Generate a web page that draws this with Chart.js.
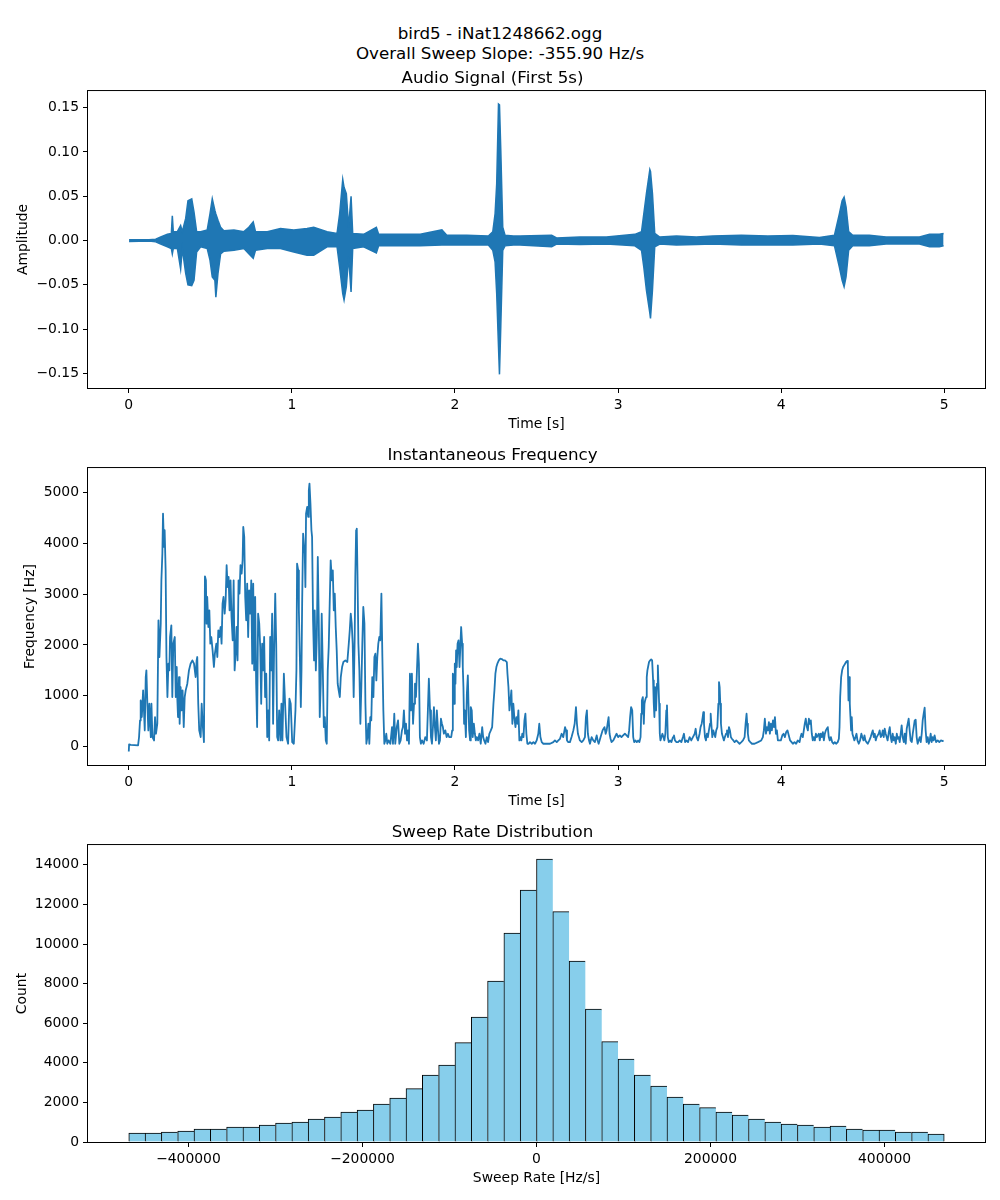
<!DOCTYPE html>
<html>
<head>
<meta charset="utf-8">
<title>bird5 - iNat1248662.ogg</title>
<script src="https://cdn.jsdelivr.net/npm/chart.js@4.4.1/dist/chart.umd.min.js"></script>
<style>
  html, body { margin: 0; padding: 0; background: #fff; }
  body { width: 1000px; height: 1200px; position: relative; font-family: 'DejaVu Sans', sans-serif; }
  #suptitle { position: absolute; left: 0; top: 23px; width: 1000px; text-align: center;
              font-size: 16.7px; line-height: 20px; color: #000; }
  canvas { position: absolute; left: 0; width: 1000px; height: 377px; }
</style>
</head>
<body>
<div id="suptitle">bird5 - iNat1248662.ogg<br>Overall Sweep Slope: -355.90 Hz/s</div>
<canvas id="audioChart" width="1000" height="377" style="top:58px"></canvas>
<canvas id="freqChart" width="1000" height="377" style="top:435px"></canvas>
<canvas id="sweepChart" width="1000" height="377" style="top:812px"></canvas>
<script>
// ─── TICKS ─────────────────────────────────────────────────────────
const timeTicks  = [0, 1, 2, 3, 4, 5];
const audioTicks = [-0.15, -0.10, -0.05, 0, 0.05, 0.10, 0.15];
const freqTicks  = [0, 1000, 2000, 3000, 4000, 5000];
const countTicks = [0, 2000, 4000, 6000, 8000, 10000, 12000, 14000];
const sweepTicks = [-400000, -200000, 0, 200000, 400000];

// ─── AUDIO SIGNAL (envelope) ───────────────────────────────────────
const audioTime = [
  0.002, 0.124, 0.165, 0.196, 0.237, 0.261, 0.267, 0.273, 0.298, 0.318,
  0.328, 0.349, 0.363, 0.386, 0.400, 0.416, 0.441, 0.481, 0.498, 0.512,
  0.528, 0.534, 0.547, 0.563, 0.583, 0.645, 0.706, 0.736, 0.763, 0.777,
  0.849, 0.930, 1.012, 1.093, 1.134, 1.216, 1.277, 1.293, 1.312, 1.320,
  1.334, 1.348, 1.363, 1.373, 1.440, 1.518, 1.532, 1.665, 1.787, 1.920,
  1.950, 2.073, 2.205, 2.232, 2.246, 2.256, 2.267, 2.273, 2.281, 2.293,
  2.307, 2.358, 2.399, 2.593, 2.623, 2.766, 2.929, 3.103, 3.144, 3.158,
  3.174, 3.195, 3.199, 3.211, 3.225, 3.256, 3.358, 3.480, 3.581, 3.756,
  3.919, 4.072, 4.235, 4.327, 4.357, 4.374, 4.386, 4.398, 4.414, 4.439,
  4.541, 4.643, 4.848, 4.910, 4.970, 4.996
];
const audioUpper = [
  0.001, 0.001, 0.0015, 0.004, 0.007, 0.008, 0.028, 0.010, 0.010, 0.017,
  0.010, 0.025, 0.045, 0.047, 0.032, 0.010, 0.010, 0.012, 0.030, 0.047,
  0.034, 0.030, 0.023, 0.015, 0.011, 0.012, 0.010, 0.015, 0.021, 0.010,
  0.010, 0.0135, 0.012, 0.0135, 0.015, 0.010, 0.008, 0.030, 0.069, 0.060,
  0.053, 0.015, 0.050, 0.008, 0.007, 0.015, 0.007, 0.007, 0.007, 0.012,
  0.006, 0.006, 0.005, 0.010, 0.030, 0.064, 0.154, 0.153, 0.102, 0.015,
  0.006, 0.005, 0.005, 0.006, 0.003, 0.004, 0.004, 0.007, 0.010, 0.030,
  0.053, 0.080, 0.078, 0.053, 0.008, 0.004, 0.005, 0.004, 0.005, 0.006,
  0.005, 0.0056, 0.0034, 0.006, 0.030, 0.045, 0.049, 0.038, 0.010, 0.006,
  0.006, 0.004, 0.004, 0.007, 0.007, 0.008
];
const audioLower = [
  -0.001, -0.0005, -0.0015, -0.004, -0.007, -0.009, -0.015, -0.009, -0.009, -0.032,
  -0.009, -0.037, -0.050, -0.051, -0.045, -0.013, -0.007, -0.009, -0.022, -0.041,
  -0.045, -0.064, -0.037, -0.015, -0.012, -0.011, -0.009, -0.015, -0.020, -0.011,
  -0.009, -0.009, -0.013, -0.0165, -0.0165, -0.007, -0.007, -0.030, -0.060, -0.067,
  -0.052, -0.018, -0.058, -0.009, -0.007, -0.014, -0.006, -0.006, -0.006, -0.005,
  -0.005, -0.005, -0.005, -0.011, -0.024, -0.060, -0.120, -0.151, -0.097, -0.011,
  -0.006, -0.005, -0.005, -0.007, -0.004, -0.0045, -0.004, -0.006, -0.011, -0.030,
  -0.056, -0.082, -0.088, -0.056, -0.007, -0.004, -0.005, -0.0045, -0.004, -0.005,
  -0.005, -0.005, -0.0038, -0.006, -0.030, -0.045, -0.052, -0.041, -0.011, -0.006,
  -0.006, -0.004, -0.004, -0.007, -0.007, -0.006
];

// ─── INSTANTANEOUS FREQUENCY [time s, Hz] ──────────────────────────
const freqTrace = [
  [0.000,-100],[0.002,40],[0.012,30],[0.057,20],[0.063,184],[0.069,513],[0.073,907],[0.080,579],[0.088,1104],[0.098,316],
  [0.104,1367],[0.108,1499],[0.114,841],[0.120,316],[0.126,841],[0.135,184],[0.139,841],[0.145,184],[0.155,118],[0.161,579],
  [0.167,250],[0.175,447],[0.182,2485],[0.188,1762],[0.196,2419],[0.200,3274],[0.206,3800],[0.210,4589],[0.216,3931],[0.220,4260],
  [0.226,3471],[0.231,1762],[0.237,973],[0.243,1630],[0.249,1499],[0.253,2156],[0.261,2386],[0.267,973],[0.273,2025],[0.282,2156],
  [0.288,973],[0.294,1565],[0.298,907],[0.302,579],[0.308,1367],[0.312,447],[0.318,1170],[0.324,710],[0.330,1104],[0.337,381],
  [0.343,973],[0.349,1104],[0.359,1236],[0.369,1499],[0.379,1630],[0.390,1696],[0.400,1630],[0.410,1367],[0.416,1696],[0.420,1762],
  [0.426,841],[0.432,316],[0.441,184],[0.447,841],[0.453,447],[0.461,85],[0.467,3353],[0.473,3274],[0.477,2419],[0.481,2945],
  [0.488,2353],[0.494,2682],[0.500,2025],[0.506,2156],[0.514,1893],[0.522,1565],[0.528,1828],[0.537,2025],[0.543,1762],[0.549,2288],
  [0.555,2156],[0.563,2353],[0.569,2025],[0.575,2814],[0.581,2945],[0.588,2616],[0.594,2880],[0.600,3570],[0.606,3142],[0.612,3340],
  [0.618,2682],[0.624,3274],[0.630,2551],[0.637,2091],[0.643,3274],[0.649,1499],[0.655,1828],[0.661,2353],[0.667,1696],[0.673,3274],
  [0.679,3011],[0.685,3570],[0.692,3405],[0.698,3668],[0.702,4326],[0.708,4128],[0.714,2945],[0.720,2485],[0.726,3208],[0.732,2156],
  [0.738,3077],[0.745,2616],[0.751,3274],[0.757,1630],[0.763,3208],[0.769,1499],[0.775,2945],[0.781,1236],[0.787,381],[0.793,2616],
  [0.800,2419],[0.806,1959],[0.812,841],[0.818,2025],[0.824,1499],[0.830,2156],[0.836,973],[0.843,1433],[0.849,184],[0.855,710],
  [0.861,118],[0.867,2156],[0.873,1499],[0.879,2616],[0.885,447],[0.891,1893],[0.898,3011],[0.904,2025],[0.910,184],[0.916,118],
  [0.922,710],[0.930,118],[0.936,841],[0.942,118],[0.951,1433],
  [0.967,184],[0.977,53],[0.985,940],[0.993,841],[1.002,85],[1.012,53],[1.022,710],[1.028,1499],[1.032,3603],[1.039,3471],
  [1.043,2682],[1.049,1762],[1.055,776],[1.059,1499],[1.063,2814],[1.069,4194],[1.075,3931],[1.079,3800],[1.083,3142],[1.087,4589],
  [1.094,4720],[1.100,4523],[1.104,5049],[1.108,5180],[1.114,4786],[1.120,4260],[1.124,4128],[1.130,2485],[1.136,1696],[1.140,2682],
  [1.147,1499],[1.153,2156],[1.159,3734],[1.165,2485],[1.171,579],[1.177,1236],[1.183,2616],[1.189,1630],[1.196,381],[1.202,579],
  [1.208,118],[1.214,53],[1.220,1499],[1.226,1959],[1.232,2814],[1.238,3668],[1.245,3274],[1.251,3471],[1.257,2682],[1.263,3011],
  [1.269,2353],[1.275,1893],[1.281,1236],[1.287,1104],[1.294,973],[1.300,1367],[1.308,1565],[1.316,1663],[1.328,1696],[1.340,1663],
  [1.349,2025],[1.355,2288],[1.361,2616],[1.367,2419],[1.373,2025],[1.379,973],[1.385,2091],[1.389,3340],[1.394,4260],[1.398,4293],
  [1.402,3471],[1.408,2025],[1.414,1499],[1.420,447],[1.426,1170],[1.432,2025],[1.438,2748],[1.445,2419],[1.451,841],[1.457,53],
  [1.463,184],[1.469,447],[1.475,53],[1.481,579],[1.487,513],[1.493,1367],[1.500,973],[1.506,1762],[1.512,1828],[1.518,1302],
  [1.524,1762],[1.530,2025],[1.536,2156],[1.542,2091],[1.549,3011],[1.555,1762],[1.561,710],[1.567,53],[1.573,118],[1.579,250],
  [1.585,53],[1.593,118],[1.604,53],[1.614,381],[1.620,53],[1.628,644],[1.634,53],[1.643,381],[1.651,513],[1.659,53],
  [1.667,118],[1.675,316],[1.681,381],[1.687,710],[1.694,250],[1.700,447],[1.706,118],[1.712,316],[1.718,53],[1.724,1433],
  [1.730,710],[1.736,1433],[1.743,447],[1.749,841],[1.755,1236],[1.761,973],[1.767,1499],[1.773,2025],[1.779,1630],[1.785,184],
  [1.791,53],[1.798,118],[1.808,53],[1.818,184],[1.828,118],[1.834,710],[1.840,1335],[1.847,710],[1.853,184],[1.859,53],
  [1.865,381],[1.871,776],[1.877,381],[1.883,118],[1.889,710],[1.896,316],[1.902,53],[1.908,118],[1.914,546],[1.920,447],
  [1.926,381],[1.932,250],[1.941,316],[1.949,184],[1.957,250],[1.965,184],
  [1.977,184],[1.983,316],[1.987,1433],[1.991,1367],[1.995,841],[1.999,1630],[2.003,1236],[2.007,1893],[2.011,1565],[2.016,2025],
  [2.022,2091],[2.028,1565],[2.032,1893],[2.038,2353],[2.044,2025],[2.048,1565],[2.052,1170],[2.056,447],[2.060,710],[2.067,184],
  [2.073,1039],[2.079,1400],[2.083,841],[2.087,316],[2.093,118],[2.097,776],[2.103,710],[2.109,184],[2.116,447],[2.122,250],
  [2.128,118],[2.134,184],[2.142,118],[2.150,250],[2.158,53],[2.167,381],[2.173,184],[2.179,118],[2.187,53],[2.195,184],
  [2.203,85],[2.211,250],[2.220,316],[2.228,381],[2.236,841],[2.242,1104],[2.248,1433],[2.254,1565],[2.260,1630],[2.269,1696],
  [2.277,1729],[2.287,1722],[2.297,1696],[2.307,1696],[2.318,1663],[2.322,1433],[2.328,1170],[2.334,710],[2.340,907],[2.346,1104],
  [2.352,447],[2.358,841],[2.364,579],[2.371,381],[2.377,579],[2.383,447],[2.389,710],[2.395,118],[2.401,184],[2.407,118],
  [2.413,250],[2.420,184],[2.426,513],[2.432,644],[2.438,250],[2.444,53],[2.452,53],[2.460,85],[2.471,53],[2.481,85],
  [2.491,53],[2.501,118],[2.511,250],[2.517,447],[2.524,184],[2.532,85],[2.542,53],[2.562,53],[2.583,53],[2.603,85],
  [2.613,118],[2.624,85],[2.634,118],[2.644,151],[2.654,250],[2.664,184],[2.675,381],[2.681,316],[2.687,118],[2.695,85],
  [2.705,85],[2.715,184],[2.726,316],[2.734,447],[2.742,776],[2.748,447],[2.754,250],[2.760,184],[2.766,118],[2.777,85],
  [2.787,118],[2.797,184],[2.803,579],[2.809,710],[2.815,250],[2.822,118],[2.828,53],[2.838,184],[2.848,118],[2.858,85],
  [2.869,217],[2.875,118],[2.881,53],[2.887,118],[2.893,184],[2.899,250],[2.905,316],[2.911,348],[2.917,381],[2.924,250],
  [2.930,316],[2.936,447],[2.942,579],[2.948,250],[2.954,151],[2.960,85],[2.971,118],
  [2.991,250],[3.001,184],[3.011,217],[3.021,184],[3.031,217],[3.042,250],[3.052,217],[3.062,184],[3.068,316],[3.074,579],
  [3.080,776],[3.087,710],[3.093,184],[3.099,85],[3.107,118],[3.115,85],[3.123,118],[3.131,85],[3.138,184],[3.142,644],
  [3.146,907],[3.152,973],[3.158,447],[3.162,841],[3.166,907],[3.172,973],[3.176,1367],[3.180,1499],[3.184,1565],[3.190,1663],
  [3.197,1696],[3.203,1716],[3.209,1696],[3.215,1302],[3.219,841],[3.223,579],[3.227,1170],[3.233,710],[3.239,1236],[3.244,1597],
  [3.248,1236],[3.252,841],[3.256,250],[3.260,118],[3.266,184],[3.272,250],[3.278,184],[3.284,118],[3.290,250],[3.296,710],
  [3.300,809],[3.305,184],[3.311,85],[3.319,118],[3.327,85],[3.337,184],[3.343,217],[3.349,118],[3.358,85],[3.368,85],
  [3.378,118],[3.388,85],[3.398,184],[3.404,250],[3.411,85],[3.419,118],[3.429,85],[3.439,184],[3.449,118],[3.459,184],
  [3.470,250],[3.476,348],[3.482,184],[3.490,118],[3.500,250],[3.506,381],[3.513,447],[3.519,579],[3.523,677],[3.527,447],
  [3.533,184],[3.539,118],[3.545,250],[3.551,184],[3.557,316],[3.564,447],[3.568,644],[3.572,447],[3.578,184],[3.584,316],
  [3.590,250],[3.596,184],[3.602,316],[3.609,381],[3.615,841],[3.619,1269],[3.623,1170],[3.627,841],[3.631,447],[3.637,250],
  [3.643,184],[3.649,118],[3.655,184],[3.662,250],[3.668,316],[3.674,184],[3.680,381],[3.686,316],[3.692,184],[3.698,151],
  [3.707,118],[3.715,85],[3.725,118],[3.735,85],[3.745,53],[3.756,85],[3.766,118],[3.776,184],[3.782,447],[3.788,644],
  [3.792,447],[3.796,250],[3.802,118],[3.811,85],[3.821,53],[3.837,53],[3.858,85],[3.878,118],[3.888,184],[3.894,316],
  [3.900,546],[3.907,250],[3.913,381],[3.919,316],[3.925,480],[3.931,250],[3.937,447],[3.943,316],[3.950,513],[3.956,381],
  [3.962,579],[3.968,250],[3.974,316],[3.980,118],
  [3.998,118],[4.007,217],[4.015,250],[4.023,184],[4.031,283],[4.039,316],[4.047,217],[4.055,118],[4.064,85],[4.072,53],
  [4.082,85],[4.092,53],[4.102,118],[4.113,85],[4.119,184],[4.125,250],[4.133,184],[4.139,316],[4.145,447],[4.151,546],
  [4.158,381],[4.164,316],[4.170,546],[4.176,447],[4.182,513],[4.188,250],[4.194,118],[4.200,184],[4.207,118],[4.213,250],
  [4.219,184],[4.225,217],[4.231,250],[4.237,118],[4.243,250],[4.249,184],[4.256,283],[4.262,118],[4.268,250],[4.274,316],
  [4.280,348],[4.286,381],[4.292,184],[4.298,118],[4.305,184],[4.313,85],[4.321,53],[4.329,85],[4.337,53],[4.347,85],
  [4.354,151],[4.358,381],[4.362,973],[4.368,1367],[4.374,1499],[4.380,1565],[4.386,1597],[4.392,1630],[4.398,1663],[4.405,1683],
  [4.409,1630],[4.413,907],[4.417,1367],[4.421,841],[4.425,579],[4.429,316],[4.433,579],[4.437,250],[4.443,184],[4.449,118],
  [4.456,184],[4.462,250],[4.468,118],[4.476,53],[4.484,118],[4.492,250],[4.498,184],[4.505,118],[4.511,217],[4.517,118],
  [4.523,85],[4.531,53],[4.541,118],[4.549,184],[4.555,250],[4.562,316],[4.568,184],[4.574,250],[4.580,118],[4.586,184],
  [4.592,217],[4.598,250],[4.604,316],[4.611,184],[4.617,217],[4.623,316],[4.629,184],[4.635,348],[4.641,250],[4.647,184],
  [4.653,118],[4.660,283],[4.666,381],[4.672,184],[4.678,85],[4.684,250],[4.690,118],[4.696,184],[4.703,53],[4.709,250],
  [4.715,151],[4.721,184],[4.727,85],[4.733,250],[4.739,414],[4.745,184],[4.752,85],[4.758,250],[4.764,53],[4.770,348],
  [4.776,447],[4.782,546],[4.788,316],[4.794,118],[4.801,85],[4.807,250],[4.813,381],[4.819,513],[4.825,526],[4.831,184],
  [4.837,53],[4.843,118],[4.850,184],[4.856,85],[4.862,250],[4.868,513],[4.874,644],[4.880,763],[4.886,316],[4.892,85],
  [4.899,184],[4.905,53],[4.911,118],[4.917,250],[4.923,85],[4.929,184],[4.935,118],[4.941,217],[4.950,85],[4.960,118],
  [4.970,85],[4.980,118],[4.990,105],[4.996,118]
];

// ─── SWEEP RATE HISTOGRAM (50 bins) ────────────────────────────────
const sweepBinEdges = [
  -468600, -449856, -431112, -412368, -393624, -374880, -356136, -337392, -318648, -299904,
  -281160, -262416, -243672, -224928, -206184, -187440, -168696, -149952, -131208, -112464,
  -93720, -74976, -56232, -37488, -18744, 0, 18744, 37488, 56232, 74976,
  93720, 112464, 131208, 149952, 168696, 187440, 206184, 224928, 243672, 262416,
  281160, 299904, 318648, 337392, 356136, 374880, 393624, 412368, 431112, 449856, 468600
];
const sweepCounts = [
  450, 450, 505, 555, 657, 657, 758, 758, 859, 960,
  1010, 1162, 1263, 1515, 1616, 1919, 2222, 2694, 3384, 3889,
  5017, 6313, 8131, 10556, 12727, 14293, 11633, 9141, 6717, 5067,
  4192, 3384, 2828, 2273, 1919, 1734, 1515, 1364, 1162, 1010,
  909, 859, 758, 808, 657, 606, 606, 505, 505, 404
];

// ─── STYLE HELPERS ─────────────────────────────────────────────────
const BLUE = '#1f77b4';
Chart.defaults.font.family = "'DejaVu Sans', sans-serif";
Chart.defaults.font.size = 13.9;
Chart.defaults.color = '#000';

const minus = s => String(s).replace('-', '\u2212');

function fixedTicks(values) {
    return scale => { scale.ticks = values.map(v => ({ value: v })); };
}

const frameBox = {
    id: 'frameBox',
    afterDraw(chart) {
        const a = chart.chartArea, ctx = chart.ctx;
        ctx.save();
        ctx.strokeStyle = '#000';
        ctx.lineWidth = 1;
        ctx.strokeRect(a.left - 0.5, a.top - 0.5, a.right - a.left + 1, a.bottom - a.top + 1);
        ctx.restore();
    }
};

const tickGrid = { drawOnChartArea: false, drawTicks: true, tickLength: 5, color: '#000', lineWidth: 1, offset: false };

function xAxis(min, max, ticks, label, fmt) {
    return {
        type: 'linear', min, max, offset: false,
        afterBuildTicks: fixedTicks(ticks),
        afterFit: s => { s.height = 47; },
        grid: tickGrid,
        border: { display: false },
        ticks: { padding: 4, maxRotation: 0, autoSkip: false, callback: fmt },
        title: { display: true, text: label, padding: { top: 0, bottom: 2 } }
    };
}

function yAxis(min, max, ticks, label, fmt, titlePad) {
    return {
        type: 'linear', min, max,
        afterBuildTicks: fixedTicks(ticks),
        afterFit: s => { s.width = 88; },
        grid: tickGrid,
        border: { display: false },
        ticks: { padding: 4, autoSkip: false, callback: fmt },
        title: { display: true, text: label, padding: { top: titlePad, bottom: 0 } }
    };
}

function baseOptions(title, x, y) {
    return {
        responsive: false,
        animation: false,
        layout: { padding: { left: 0, right: 15, top: 0, bottom: 0 } },
        plugins: {
            legend: { display: false },
            tooltip: { enabled: false },
            title: { display: true, text: title, font: { size: 16.7, weight: 'normal' },
                     padding: { top: 11, bottom: 2 }, color: '#000' }
        },
        elements: { point: { radius: 0 }, line: { tension: 0 } },
        scales: { x, y }
    };
}

// ─── AUDIO SIGNAL ──────────────────────────────────────────────────
new Chart(document.getElementById('audioChart'), {
    type: 'line',
    data: {
        datasets: [
            { data: audioTime.map((t, i) => ({ x: t, y: audioUpper[i] })),
              borderColor: BLUE, borderWidth: 1.5, fill: false },
            { data: audioTime.map((t, i) => ({ x: t, y: audioLower[i] })),
              borderColor: BLUE, backgroundColor: BLUE, borderWidth: 1.5, fill: '-1' }
        ]
    },
    options: baseOptions('Audio Signal (First 5s)',
        xAxis(-0.25, 5.25, timeTicks, 'Time [s]', v => String(v)),
        yAxis(-0.1664, 0.1687, audioTicks, 'Amplitude', v => minus(v.toFixed(2)), 15)),
    plugins: [frameBox]
});

// ─── INSTANTANEOUS FREQUENCY ───────────────────────────────────────
new Chart(document.getElementById('freqChart'), {
    type: 'line',
    data: {
        datasets: [{
            data: freqTrace.map(([t, hz]) => ({ x: t, y: hz })),
            borderColor: BLUE, borderWidth: 1.8, fill: false, borderJoinStyle: 'round'
        }]
    },
    options: baseOptions('Instantaneous Frequency',
        xAxis(-0.25, 5.25, timeTicks, 'Time [s]', v => String(v)),
        yAxis(-366, 5486, freqTicks, 'Frequency [Hz]', v => String(v), 22)),
    plugins: [frameBox]
});

// ─── SWEEP RATE DISTRIBUTION ───────────────────────────────────────
const lastBin = sweepCounts.length - 1;
new Chart(document.getElementById('sweepChart'), {
    type: 'bar',
    data: {
        datasets: [{
            data: sweepCounts.map((c, i) => ({ x: (sweepBinEdges[i] + sweepBinEdges[i + 1]) / 2, y: c })),
            backgroundColor: '#87ceeb',
            borderColor: '#000',
            borderWidth: ctx => ctx.dataIndex === lastBin
                ? { top: 1, left: 1, right: 1, bottom: 0 }
                : { top: 1, left: 1, right: 0, bottom: 0 },
            borderSkipped: false,
            barPercentage: 1,
            categoryPercentage: 1
        }]
    },
    options: baseOptions('Sweep Rate Distribution',
        xAxis(-515460, 515460, sweepTicks, 'Sweep Rate [Hz/s]', v => minus(v)),
        yAxis(0, 15000, countTicks, 'Count', v => String(v), 14)),
    plugins: [frameBox]
});
</script>
</body>
</html>
